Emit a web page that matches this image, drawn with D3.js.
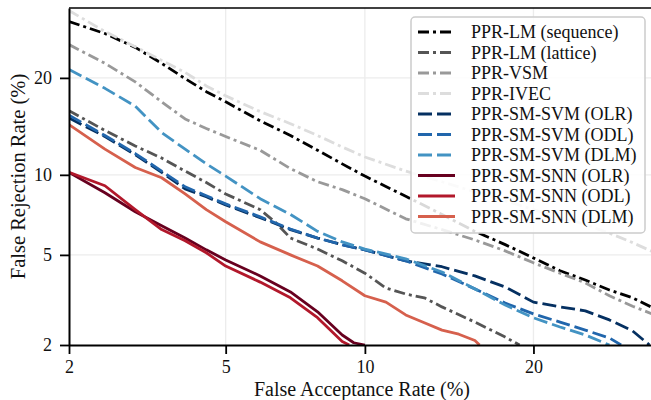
<!DOCTYPE html>
<html>
<head>
<meta charset="utf-8">
<script src="https://cdn.jsdelivr.net/npm/d3@7"></script>
<style>
  html, body { margin: 0; padding: 0; background: #fff; }
  svg { display: block; font-family: "Liberation Serif", "Times New Roman", serif; }
</style>
</head>
<body>
<svg id="chart" width="651" height="400"></svg>
<script>
// ---------- data (percent) ----------
const seriesNames = [
  "PPR-LM (sequence)", "PPR-LM (lattice)", "PPR-VSM", "PPR-IVEC",
  "PPR-SM-SVM (OLR)", "PPR-SM-SVM (ODL)", "PPR-SM-SVM (DLM)",
  "PPR-SM-SNN (OLR)", "PPR-SM-SNN (ODL)", "PPR-SM-SNN (DLM)"
];
const farGrid = [2,2.5,3,3.5,4,4.5,5,6,7,8,9,10,12,14,16,18,20,22,24,26,28,30];

const lmSeqFar = farGrid;
const lmSeqFrr = [27.9,26.1,24.1,21.9,19.9,18.3,17.1,15.0,13.5,12.1,10.9,9.9,8.4,7.2,6.2,5.5,4.86,4.3,3.93,3.56,3.29,2.94];

const lmLatFar = [2,2.5,3,3.5,4,4.5,5,6,6.5,7,8,9,10,11,12,13,14,16,18,19];
const lmLatFrr = [16.1,14.0,12.5,11.4,10.3,9.4,8.56,7.5,6.7,5.84,5.28,4.73,4.2,3.63,3.42,3.29,3.0,2.56,2.18,2.0];

const vsmFar = farGrid;
const vsmFrr = [24.5,21.9,19.5,17.1,15.2,14.2,13.4,12.1,10.5,9.46,8.87,8.23,6.93,6.3,5.74,5.19,4.64,4.2,3.82,3.36,3.02,2.76];

const ivecFar = farGrid;
const ivecFrr = [29.6,26.4,24.2,22.3,20.7,19.0,17.8,16.0,14.7,13.5,12.4,11.5,10.3,9.46,8.7,8.1,7.5,7.0,6.6,6.1,5.6,5.1];

const svmOlrFar = [2,2.5,3,3.5,4,4.5,5,6,7,8,9,10,12,14,16,18,20,22,24,26,28,29.5];
const svmOlrFrr = [15.3,13.4,11.7,10.2,8.93,8.36,7.8,7.0,6.3,5.84,5.49,5.24,4.73,4.47,4.09,3.67,3.15,3.0,2.88,2.62,2.33,2.0];

const svmOdlFar = [2,2.5,3,3.5,4,4.5,5,6,7,8,9,10,12,14,16,18,20,22,24,26,27];
const svmOdlFrr = [15.6,13.5,11.8,10.3,9.08,8.43,7.88,7.05,6.33,5.84,5.49,5.24,4.73,4.17,3.6,3.12,2.79,2.56,2.35,2.16,2.0];

const svmDlmFar = [2,2.5,3,3.5,4,4.5,5,6,7,8,9,10,12,14,16,18,20,22,24,26];
const svmDlmFrr = [21.1,18.7,16.6,13.8,12.2,10.9,9.9,8.23,7.2,6.2,5.64,5.28,4.82,4.25,3.6,3.06,2.68,2.43,2.23,2.0];

const snnOlrFar = [2,2.5,3,3.5,4,4.5,5,6,7,8,9,9.5,10];
const snnOlrFrr = [10.2,8.65,7.37,6.52,5.84,5.24,4.77,4.09,3.49,2.85,2.23,2.05,2.0];

const snnOdlFar = [2,2.5,3,3.5,4,4.5,5,6,7,8,9,9.3];
const snnOdlFrr = [10.2,9.16,7.5,6.3,5.7,5.1,4.5,3.85,3.29,2.68,2.08,2.0];

const snnDlmFar = [2,2.5,3,3.5,4,4.5,5,6,7,8,9,10,11,12,13,14,15,16,16.3];
const snnDlmFrr = [14.6,12.2,10.6,9.77,8.56,7.5,6.75,5.64,5.0,4.5,3.9,3.36,3.15,2.76,2.54,2.35,2.25,2.1,2.0];

const xTicks = [2, 5, 10, 20];
const yTicks = [2, 5, 10, 20];
const axisMin = 2, axisMax = 30;

// ---------- styles ----------
const colors = ["#000000","#555555","#999999","#dddddd","#053061","#2166ac","#4393c3","#67001f","#b2182b","#d6604d"];
const dashDot = "11,4,3,4", dashed = "14,5";
const dashes = [dashDot,dashDot,dashDot,dashDot,dashed,dashed,dashed,null,null,null];

const fars = [lmSeqFar,lmLatFar,vsmFar,ivecFar,svmOlrFar,svmOdlFar,svmDlmFar,snnOlrFar,snnOdlFar,snnDlmFar];
const frrs = [lmSeqFrr,lmLatFrr,vsmFrr,ivecFrr,svmOlrFrr,svmOdlFrr,svmDlmFrr,snnOlrFrr,snnOdlFrr,snnDlmFrr];

// ---------- probit transform (normal deviate) ----------
function probit(p){
  const a=[-3.969683028665376e+01,2.209460984245205e+02,-2.759285104469687e+02,1.383577518672690e+02,-3.066479806614716e+01,2.506628277459239e+00];
  const b=[-5.447609879822406e+01,1.615858368580409e+02,-1.556989798598866e+02,6.680131188771972e+01,-1.328068155288572e+01];
  const c=[-7.784894002430293e-03,-3.223964580411365e-01,-2.400758277161838e+00,-2.549732539343734e+00,4.374664141464968e+00,2.938163982698783e+00];
  const d=[7.784695709041462e-03,3.224671290700398e-01,2.445134137142996e+00,3.754408661907416e+00];
  const pl=0.02425, ph=1-pl; let q,r;
  if(p<pl){q=Math.sqrt(-2*Math.log(p));return (((((c[0]*q+c[1])*q+c[2])*q+c[3])*q+c[4])*q+c[5])/((((d[0]*q+d[1])*q+d[2])*q+d[3])*q+1);}
  if(p<=ph){q=p-0.5;r=q*q;return (((((a[0]*r+a[1])*r+a[2])*r+a[3])*r+a[4])*r+a[5])*q/(((((b[0]*r+b[1])*r+b[2])*r+b[3])*r+b[4])*r+1);}
  q=Math.sqrt(-2*Math.log(1-p));return -(((((c[0]*q+c[1])*q+c[2])*q+c[3])*q+c[4])*q+c[5])/((((d[0]*q+d[1])*q+d[2])*q+d[3])*q+1);
}
const pr = v => probit(v / 100);

// ---------- layout ----------
const L = 69, R = 655, T = 8, B = 345;
const svg = d3.select("#chart");
const xs = d3.scaleLinear().domain([pr(axisMin), pr(axisMax)]).range([L, R]);
const ys = d3.scaleLinear().domain([pr(axisMin), pr(axisMax)]).range([B, T]);

svg.append("defs").append("clipPath").attr("id","clip")
  .append("rect").attr("x",L).attr("y",T).attr("width",R-L).attr("height",B-T);

// grid
const grid = svg.append("g");
grid.selectAll(".gx").data(xTicks.slice(1)).enter().append("line")
  .attr("x1",d=>xs(pr(d))).attr("x2",d=>xs(pr(d))).attr("y1",T).attr("y2",B)
  .attr("stroke","#ececec").attr("stroke-width",1.3);
grid.selectAll(".gy").data(yTicks.slice(1)).enter().append("line")
  .attr("y1",d=>ys(pr(d))).attr("y2",d=>ys(pr(d))).attr("x1",L).attr("x2",R)
  .attr("stroke","#ececec").attr("stroke-width",1.3);

// curves
const line = d3.line().x(d=>xs(pr(d[0]))).y(d=>ys(pr(d[1])));
const curves = svg.append("g").attr("clip-path","url(#clip)");
seriesNames.forEach((name,i)=>{
  const pts = fars[i].map((f,j)=>[f, frrs[i][j]]);
  curves.append("path").datum(pts).attr("d",line)
    .attr("fill","none").attr("stroke",colors[i]).attr("stroke-width",2.8)
    .attr("stroke-dasharray",dashes[i]).attr("stroke-linejoin","round");
});

// top spine
svg.append("line").attr("x1",L).attr("x2",R).attr("y1",T).attr("y2",T)
  .attr("stroke","#000").attr("stroke-width",1.6);

// axes
const xAxis = d3.axisBottom(xs).tickValues(xTicks.map(pr)).tickFormat((d,i)=>xTicks[i])
  .tickSize(9).tickSizeOuter(0).tickPadding(6.5);
const yAxis = d3.axisLeft(ys).tickValues(yTicks.map(pr)).tickFormat((d,i)=>yTicks[i])
  .tickSize(9).tickSizeOuter(0).tickPadding(8);
const gx = svg.append("g").attr("transform",`translate(0,${B})`).call(xAxis);
const gy = svg.append("g").attr("transform",`translate(${L},0)`).call(yAxis);
[gx,gy].forEach(g=>{
  g.select(".domain").attr("stroke","#000").attr("stroke-width",2);
  g.selectAll(".tick line").attr("stroke","#000").attr("stroke-width",1.8);
  g.selectAll(".tick text").attr("fill","#111").style("font-size","18px")
    .style("font-family","'Liberation Serif','Times New Roman',serif");
});

// axis labels
svg.append("text").attr("x",(L+R)/2).attr("y",395.5).attr("text-anchor","middle")
  .style("font-size","20px").attr("fill","#111").text("False Acceptance Rate (%)");
svg.append("text").attr("transform",`translate(25,${(T+B)/2}) rotate(-90)`).attr("text-anchor","middle")
  .style("font-size","20.5px").attr("fill","#111").text("False Rejection Rate (%)");

// legend
const lg = svg.append("g");
lg.append("rect").attr("x",411).attr("y",17).attr("width",234).attr("height",216).attr("rx",4)
  .attr("fill","#fff").attr("fill-opacity",0.85).attr("stroke","#cccccc").attr("stroke-width",1.5);
seriesNames.forEach((name,i)=>{
  const y = 32 + i*20.5;
  lg.append("line").attr("x1",418).attr("x2",455).attr("y1",y).attr("y2",y)
    .attr("stroke",colors[i]).attr("stroke-width",2.8).attr("stroke-dasharray",dashes[i]);
  lg.append("text").attr("x",471).attr("y",y).attr("dy","0.35em")
    .style("font-size","18px").attr("fill","#111").text(name);
});
</script>
</body>
</html>
